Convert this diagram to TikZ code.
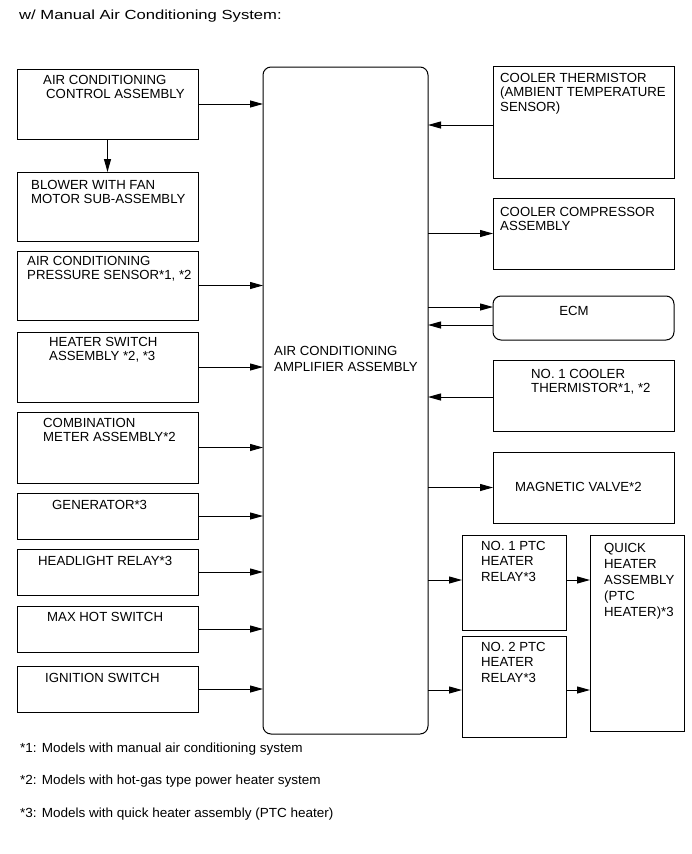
\documentclass[tikz,border=0pt]{standalone}
\usepackage{fontspec}
\setmainfont{Liberation Sans}
\usepackage{graphicx}
\usepackage{tikz}
\usetikzlibrary{positioning,calc,arrows.meta}
\newcommand{\boxfont}{\fontsize{13.2}{14.5}\selectfont}

\begin{document}
\begin{tikzpicture}[
      x = 1pt, y = -1pt,
      node distance = 10pt,
      base/.style={rectangle, draw, line width=1pt, anchor=north west, inner sep=0pt, outer sep=0pt, minimum width=181pt},
      txt/.style={anchor=north west, inner sep=0pt, align=left, font=\boxfont},
      arr/.style={-{Triangle[length=13pt,width=7pt]}, line width=1pt},
    ]
      \useasboundingbox (0,0) rectangle (691,854);

      \node[txt] (title) at (19,10) {\scalebox{1.26}[1]{w/ Manual Air Conditioning System:}};

      % amplifier
      \node[base, rounded corners=8pt, minimum width=165pt, minimum height=667pt] (amp) at (263,67) {};
      \node[txt, font=\fontsize{13.2}{16}\selectfont] (ampt) at ($ (amp.north west) + (11,279) $) {AIR CONDITIONING\\AMPLIFIER ASSEMBLY};

      % left side
      \node[base, minimum height=70pt] (ctrl) at (17,69) {};
      \node[base, below = 33pt of ctrl, minimum height=69pt] (blow) {};
      \node[base, below =      of blow, minimum height=69pt] (pres) {};
      \node[base, below = 12pt of pres, minimum height=70pt] (htsw) {};
      \node[base, below =      of htsw, minimum height=71pt] (comb) {};
      \node[base, below =      of comb, minimum height=46pt] (gen) {};
      \node[base, below =      of gen , minimum height=46pt] (hdl) {};
      \node[base, below = 11pt of hdl , minimum height=46pt] (maxh) {};
      \node[base, below = 14pt of maxh, minimum height=46pt] (ign) {};

      \node[txt] (ctrlt) at ($ (ctrl.north west) + (26,6) $) {AIR CONDITIONING\\\hspace*{3pt}CONTROL ASSEMBLY};
      \node[txt] (blowt) at ($ (blow.north west) + (14,8) $) {BLOWER WITH FAN\\MOTOR SUB-ASSEMBLY};
      \node[txt] (prest) at ($ (pres.north west) + (10,5) $) {AIR CONDITIONING\\PRESSURE SENSOR*1, *2};
      \node[txt] (htswt) at ($ (htsw.north west) + (32,5) $) {HEATER SWITCH\\ASSEMBLY *2, *3};
      \node[txt] (combt) at ($ (comb.north west) + (26,6) $) {COMBINATION\\METER ASSEMBLY*2};
      \node[txt] (gent)  at ($ (gen.north west)  + (35,7) $) {GENERATOR*3};
      \node[txt] (hdlt)  at ($ (hdl.north west)  + (21,7) $) {HEADLIGHT RELAY*3};
      \node[txt] (maxht) at ($ (maxh.north west) + (30,6) $) {MAX HOT SWITCH};
      \node[txt] (ignt)  at ($ (ign.north west)  + (28,7) $) {IGNITION SWITCH};

      \draw[arr] (ctrl.south) -- (blow.north);
      \draw[arr] (ctrl.east) -- (ctrl.east -| amp.west);
      \draw[arr] (pres.east) -- (pres.east -| amp.west);
      \draw[arr] (htsw.east) -- (htsw.east -| amp.west);
      \draw[arr] (comb.east) -- (comb.east -| amp.west);
      \draw[arr] (gen.east)  -- (gen.east  -| amp.west);
      \draw[arr] (hdl.east)  -- (hdl.east  -| amp.west);
      \draw[arr] (maxh.east) -- (maxh.east -| amp.west);
      \draw[arr] (ign.east)  -- (ign.east  -| amp.west);

      % right side
      \node[base, minimum height=112pt] (cth) at (493,66) {};
      \node[base, below = 20pt of cth, minimum height=71pt] (comp) {};
      \node[base, below = 27pt of comp, rounded corners=8pt, minimum height=44pt] (ecm) {};
      \node[base, below = 20pt of ecm, minimum height=71pt] (nth) {};
      \node[base, below = 21pt of nth, minimum height=71pt] (mag) {};

      \node[txt] (ctht)  at ($ (cth.north west)  + (7,7) $)  {COOLER THERMISTOR\\(AMBIENT TEMPERATURE\\SENSOR)};
      \node[txt] (compt) at ($ (comp.north west) + (7,9) $)  {COOLER COMPRESSOR\\ASSEMBLY};
      \node[txt, anchor=north] (ecmt) at ($ (ecm.north) + (-9.5,10) $) {ECM};
      \node[txt] (ntht)  at ($ (nth.north west)  + (38,9) $) {NO. 1 COOLER\\THERMISTOR*1, *2};
      \node[txt] (magt)  at ($ (mag.north west)  + (22,30) $) {MAGNETIC VALVE*2};

      \draw[arr] ($ (cth.west) + (0,3) $) -- ($ (cth.west -| amp.east) + (0,3) $);
      \draw[arr] (comp.west -| amp.east) -- (comp.west);
      \draw[arr] ($ (ecm.west -| amp.east) + (0,-11) $) -- ($ (ecm.west) + (0,-11) $);
      \draw[arr] ($ (ecm.west) + (0,7) $) -- ($ (ecm.west -| amp.east) + (0,7) $);
      \draw[arr] ($ (nth.west) + (0,1.5) $) -- ($ (nth.west -| amp.east) + (0,1.5) $);
      \draw[arr] (mag.west -| amp.east) -- (mag.west);

      % ptc heater
      \node[base, minimum width=104pt, minimum height=95pt] (ptc1) at (462,535) {};
      \node[base, below = 6pt of ptc1, minimum width=104pt, minimum height=101pt] (ptc2) {};
      \node[base, minimum width=94pt, minimum height=196pt] (qh) at (590,535) {};

      \node[txt, font=\fontsize{13.2}{15.5}\selectfont] (ptc1t) at ($ (ptc1.north west) + (19,6) $) {NO. 1 PTC\\HEATER\\RELAY*3};
      \node[txt, font=\fontsize{13.2}{15.5}\selectfont] (ptc2t) at ($ (ptc2.north west) + (19,6) $) {NO. 2 PTC\\HEATER\\RELAY*3};
      \node[txt, font=\fontsize{13.2}{16}\selectfont] (qht) at ($ (qh.north west) + (14,8) $) {QUICK\\HEATER\\ASSEMBLY\\(PTC\\HEATER)*3};

      \coordinate (p1) at ($ (ptc1.west) + (0,-2.5) $);
      \coordinate (p2) at ($ (ptc2.west) + (0,3.5) $);
      \draw[arr] (p1 -| amp.east) -- (p1);
      \draw[arr] (p2 -| amp.east) -- (p2);
      \draw[arr] (p1 -| ptc1.east) -- (p1 -| qh.west);
      \draw[arr] (p2 -| ptc2.east) -- (p2 -| qh.west);

      % notes
      \node[txt] (note1) at (20,743) {\scalebox{1.025}[1]{*1: Models with manual air conditioning system}};
      \node[txt] (note2) at (20,775) {\scalebox{1.025}[1]{*2: Models with hot-gas type power heater system}};
      \node[txt] (note3) at (20,808) {\scalebox{1.025}[1]{*3: Models with quick heater assembly (PTC heater)}};

    \end{tikzpicture}
\end{document}
